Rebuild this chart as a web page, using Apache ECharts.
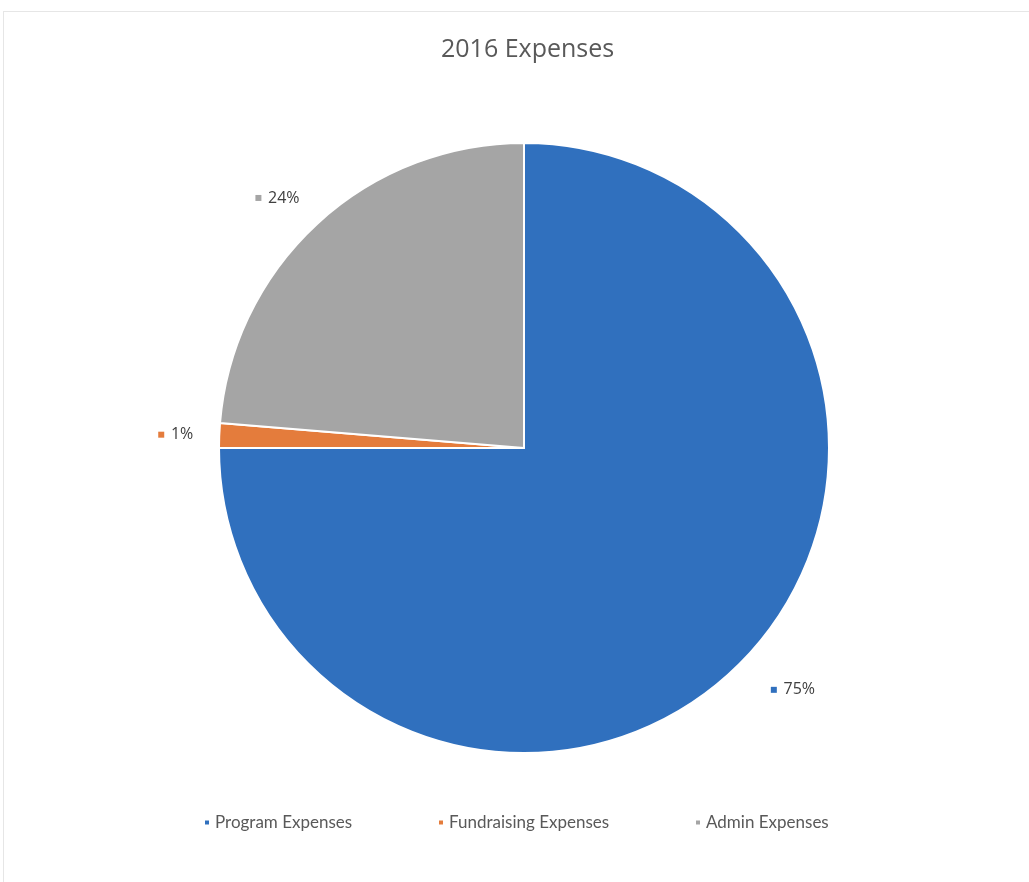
<!DOCTYPE html>
<html>
<head>
<meta charset="utf-8">
<script src="https://cdn.jsdelivr.net/npm/echarts@6/dist/echarts.min.js"></script>
<style>
html,body{margin:0;padding:0;background:#fff;}
#frame{position:absolute;left:3px;top:11px;width:1030px;height:880px;border-left:1px solid #e6e6e6;border-top:1px solid #e6e6e6;box-sizing:border-box;}
#chart{position:absolute;left:0;top:0;width:1029px;height:882px;}
</style>
</head>
<body>
<div id="frame"></div>
<div id="chart"></div>
<script>
const categories = ['Program Expenses', 'Fundraising Expenses', 'Admin Expenses'];
const values = [75.0, 1.3, 23.7];
const labels = ['75%', '1%', '24%'];
const colors = ['#3070BE', '#E47C3C', '#A5A5A5'];
const legendLeft = [203, 437, 694];
const lineLen = [37, 21, 35];
const lineLen2 = [0, 0, -11];

const chart = echarts.init(document.getElementById('chart'));
const data = categories.map((c, i) => ({
  name: c,
  value: values[i],
  itemStyle: { color: colors[i] },
  labelLine: { show: false, length: lineLen[i], length2: lineLen2[i] },
  label: {
    formatter: '{m|}  {v|' + labels[i] + '}',
    rich: {
      m: { width: 6, height: 6, backgroundColor: colors[i] },
      v: { fontSize: 16, fontWeight: 500, color: '#404040', fontFamily: 'Open Sans, Lato, sans-serif' }
    }
  }
}));

const legends = categories.map((c, i) => ({
  data: [c],
  left: legendLeft[i],
  top: 814,
  itemWidth: 6,
  itemHeight: 6,
  icon: 'rect',
  padding: 0,
  textStyle: { fontSize: 17, color: '#595959', fontFamily: 'Lato, Open Sans, sans-serif' }
}));

chart.setOption({
  animation: false,
  backgroundColor: 'transparent',
  title: {
    text: '2016 Expenses',
    left: 436,
    top: 32,
    textStyle: { fontSize: 25, fontWeight: 'normal', color: '#595959', fontFamily: 'Open Sans, Lato, sans-serif' }
  },
  legend: legends,
  series: [{
    type: 'pie',
    center: [524, 448],
    radius: [0, 305],
    startAngle: 90,
    clockwise: true,
    avoidLabelOverlap: false,
    itemStyle: { borderColor: '#ffffff', borderWidth: 2 },
    label: { show: true, position: 'outside' },
    labelLine: { show: false },
    data: data
  }]
});
</script>
</body>
</html>
